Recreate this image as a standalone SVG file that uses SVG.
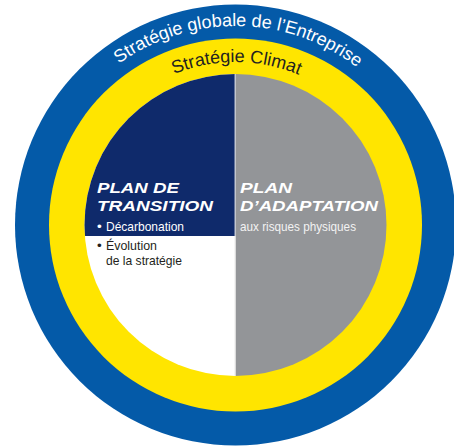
<svg xmlns="http://www.w3.org/2000/svg" xmlns:xlink="http://www.w3.org/1999/xlink" width="454" height="448" viewBox="0 0 454 448">
<style>
.ring-txt{font-family:"Liberation Sans",Arial,sans-serif;font-size:18px}
.head{font-family:"Liberation Sans",Arial,sans-serif;font-size:14px;font-weight:bold;font-style:italic;fill:#ffffff}
.body{font-family:"Liberation Sans",Arial,sans-serif;font-size:13.5px}
</style>
<defs>
<path id="outerArc" d="M 36.5,225 A 199 199 0 0 1 434.5,225"/>
<path id="innerArc" d="M 72.5,225 A 163 163 0 0 1 398.5,225"/>
<clipPath id="innerClip"><circle cx="235.5" cy="225" r="151"/></clipPath>
</defs>
<g id="global-strategy">
<circle cx="235.5" cy="225" r="220.5" fill="#045aa8"/>
<text class="ring-txt" fill="#ffffff" text-anchor="middle"><textPath xlink:href="#outerArc" href="#outerArc" startOffset="50.5%">Stratégie globale de l’Entreprise</textPath></text>
</g>
<g id="climate-strategy">
<circle cx="235.5" cy="225" r="186.5" fill="#ffe500"/>
<text class="ring-txt" fill="#231f20" text-anchor="middle"><textPath xlink:href="#innerArc" href="#innerArc" startOffset="50.2%">Stratégie Climat</textPath></text>
</g>
<g id="core" clip-path="url(#innerClip)">
<rect x="84" y="73" width="152" height="305" fill="#ffffff"/>
<rect x="84" y="73" width="151.5" height="163" fill="#0f2a6b"/>
<rect x="235.5" y="73" width="152" height="305" fill="#939598"/>
<rect x="234.6" y="73" width="1" height="305" fill="#e6e6e6"/>
</g>
<g id="transition-plan">
<text class="head" x="97" y="193" textLength="82" lengthAdjust="spacingAndGlyphs">PLAN DE</text>
<text class="head" x="97" y="210.5" textLength="116" lengthAdjust="spacingAndGlyphs">TRANSITION</text>
<text class="body" x="97" y="230.7" fill="#ffffff">•</text>
<text class="body" x="106" y="230.7" fill="#ffffff" textLength="78" lengthAdjust="spacingAndGlyphs">Décarbonation</text>
<text class="body" x="97" y="250" fill="#231f20">•</text>
<text class="body" x="106" y="250" fill="#231f20" textLength="51" lengthAdjust="spacingAndGlyphs">Évolution</text>
<text class="body" x="106" y="265" fill="#231f20" textLength="76" lengthAdjust="spacingAndGlyphs">de la stratégie</text>
</g>
<g id="adaptation-plan">
<text class="head" x="240" y="193" textLength="52" lengthAdjust="spacingAndGlyphs">PLAN</text>
<text class="head" x="240" y="210.5" textLength="138" lengthAdjust="spacingAndGlyphs">D’ADAPTATION</text>
<text class="body" x="240" y="231" fill="#f2f2f2" textLength="116" lengthAdjust="spacingAndGlyphs">aux risques physiques</text>
</g>
<g id="connectors"/>
</svg>
